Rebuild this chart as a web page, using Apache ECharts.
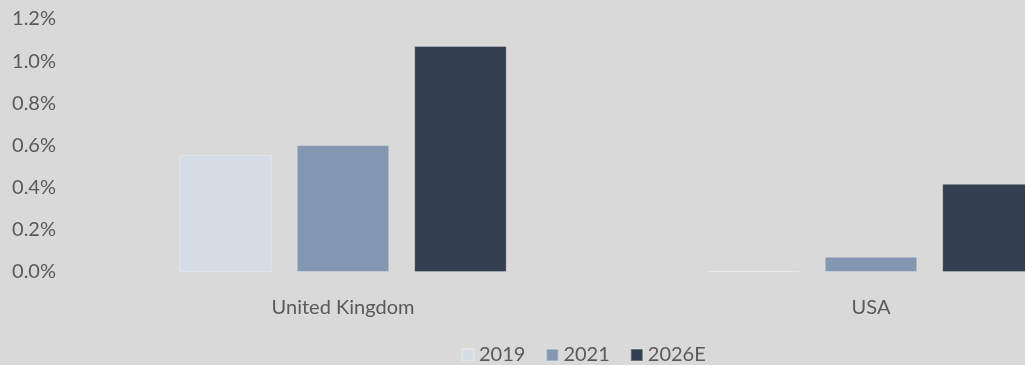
<!DOCTYPE html>
<html>
<head>
<meta charset="utf-8">
<script src="https://cdn.jsdelivr.net/npm/echarts@6/dist/echarts.min.js"></script>
<style>
  html, body { margin: 0; padding: 0; background: #d9d9d9; }
  #chart { width: 1025px; height: 365px; }
</style>
</head>
<body>
<div id="chart"></div>
<script>
// Share of market by country, in percent
const categories = ['United Kingdom', 'USA'];
const seriesNames = ['2019', '2021', '2026E'];
const values2019 = [0.555, 0.006];
const values2021 = [0.602, 0.072];
const values2026E = [1.072, 0.418];
const colors = ['#d6dce5', '#8497b0', '#333f50'];

const textColor = '#595959';
const fontFamily = 'Lato, "Open Sans", sans-serif';

const chart = echarts.init(document.getElementById('chart'));
chart.setOption({
  backgroundColor: '#d9d9d9',
  animation: false,
  textStyle: { fontFamily: fontFamily },
  legend: {
    top: 340,
    left: 456,
    itemWidth: 12,
    itemHeight: 12,
    itemGap: 20,
    icon: 'rect',
    textStyle: { color: textColor, fontSize: 20, fontFamily: fontFamily }
  },
  // The plot area runs past the right edge, so the last group is cropped
  grid: {
    left: 79, top: 19, width: 1056, bottom: 93,
    containLabel: false,
    outerBoundsMode: 'none'
  },
  xAxis: {
    type: 'category',
    data: categories,
    axisLine: { show: false },
    axisTick: { show: false },
    axisLabel: { color: textColor, fontSize: 20, margin: 26, fontFamily: fontFamily }
  },
  yAxis: {
    type: 'value',
    min: 0,
    max: 1.2,
    interval: 0.2,
    splitLine: { show: false },
    axisLine: { show: false },
    axisTick: { show: false },
    axisLabel: {
      color: textColor,
      fontSize: 20,
      margin: 23,
      fontFamily: fontFamily,
      formatter: v => v.toFixed(1) + '%'
    }
  },
  series: [values2019, values2021, values2026E].map((vals, i) => ({
    name: seriesNames[i],
    type: 'bar',
    data: vals,
    barGap: '27%',
    barCategoryGap: '38%',
    itemStyle: {
      color: colors[i],
      borderColor: 'rgba(255,255,255,0.25)',
      borderWidth: 1
    }
  }))
});
</script>
</body>
</html>
